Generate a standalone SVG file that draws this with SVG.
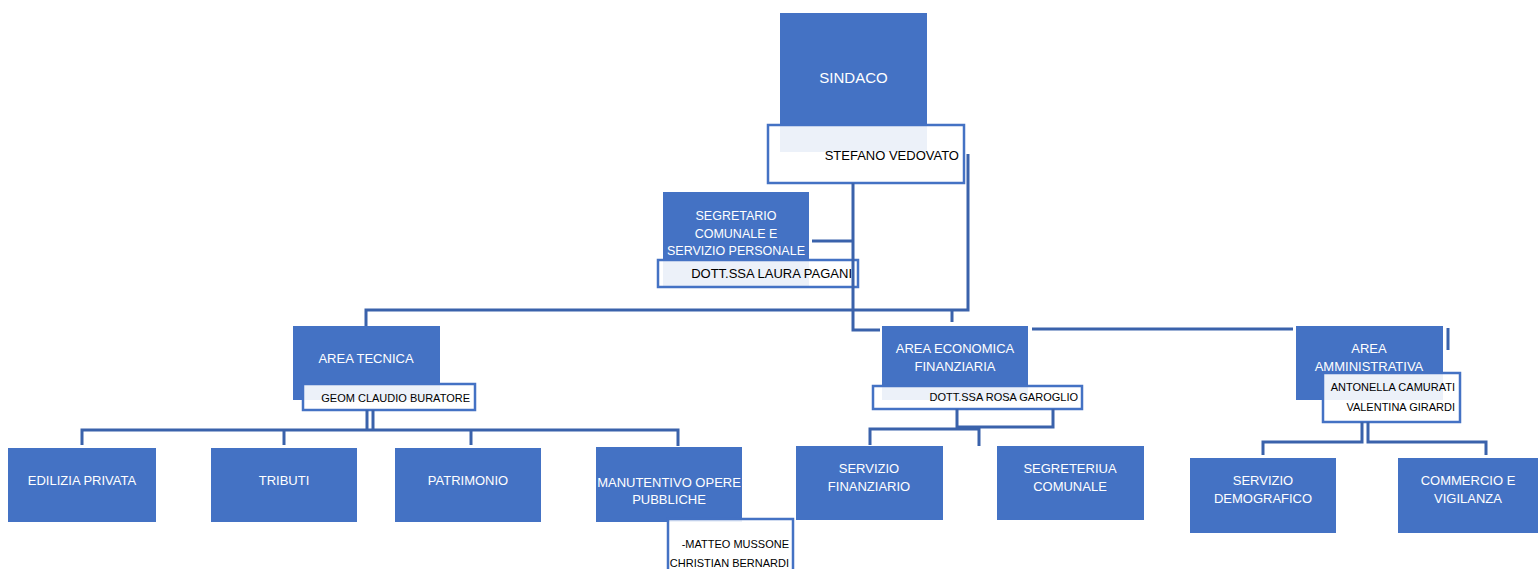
<svg xmlns="http://www.w3.org/2000/svg" width="1539" height="569" viewBox="0 0 1539 569">
<style>
  .box { fill: #4472C4; }
  .lbl { fill: #FFFFFF; fill-opacity: 0.9; stroke: #4472C4; stroke-width: 2.5; }
  .wt { font-family: "Liberation Sans", Arial, sans-serif; font-size: 13px; fill: #FFFFFF; text-anchor: middle; }
  .bt { font-family: "Liberation Sans", Arial, sans-serif; font-size: 11px; fill: #000000; text-anchor: end; }
  .con { fill: none; stroke: #3A62AB; stroke-width: 3; }
</style>
<rect width="1539" height="569" fill="#FFFFFF"/>

<g id="sindaco">
  <rect class="box" x="780" y="13" width="147" height="139"/>
  <text class="wt" x="853.5" y="83" style="font-size:15px">SINDACO</text>
  <rect class="lbl" x="768" y="125" width="196" height="58"/>
  <text class="bt" x="959" y="160" style="font-size:13px">STEFANO VEDOVATO</text>
</g>

<g id="segretario">
  <rect class="box" x="663" y="192" width="146" height="95"/>
  <text class="wt" x="736" y="220" style="font-size:12.5px">SEGRETARIO</text>
  <text class="wt" x="736" y="238" style="font-size:12.5px">COMUNALE E</text>
  <text class="wt" x="736" y="255" style="font-size:12.5px">SERVIZIO PERSONALE</text>
  <rect class="lbl" x="658" y="260" width="200" height="27"/>
  <text class="bt" x="852" y="278" style="font-size:13px">DOTT.SSA LAURA PAGANI</text>
</g>

<g id="area-tecnica">
  <rect class="box" x="293" y="326" width="147" height="74"/>
  <text class="wt" x="366" y="363">AREA TECNICA</text>
  <rect class="lbl" x="303" y="384" width="172" height="26"/>
  <text class="bt" x="470" y="402">GEOM CLAUDIO BURATORE</text>
</g>

<g id="area-economica">
  <rect class="box" x="882" y="326" width="146" height="74"/>
  <text class="wt" x="955" y="353">AREA ECONOMICA</text>
  <text class="wt" x="955" y="371">FINANZIARIA</text>
  <rect class="lbl" x="873" y="386" width="209" height="23"/>
  <text class="bt" x="1078" y="401">DOTT.SSA ROSA GAROGLIO</text>
</g>

<g id="area-amministrativa">
  <rect class="box" x="1296" y="326" width="147" height="74"/>
  <text class="wt" x="1369" y="353">AREA</text>
  <text class="wt" x="1369" y="371">AMMINISTRATIVA</text>
  <rect class="lbl" x="1323" y="373" width="137" height="49"/>
  <text class="bt" x="1455" y="391">ANTONELLA CAMURATI</text>
  <text class="bt" x="1455" y="411">VALENTINA GIRARDI</text>
</g>

<g id="edilizia-privata">
  <rect class="box" x="8" y="448" width="148" height="74"/>
  <text class="wt" x="82" y="485">EDILIZIA PRIVATA</text>
</g>

<g id="tributi">
  <rect class="box" x="211" y="448" width="146" height="74"/>
  <text class="wt" x="284" y="485">TRIBUTI</text>
</g>

<g id="patrimonio">
  <rect class="box" x="395" y="448" width="146" height="74"/>
  <text class="wt" x="468" y="485">PATRIMONIO</text>
</g>

<g id="manutentivo">
  <rect class="box" x="596" y="447" width="146" height="75"/>
  <text class="wt" x="669" y="487">MANUTENTIVO OPERE</text>
  <text class="wt" x="669" y="504">PUBBLICHE</text>
  <rect class="lbl" x="668" y="519" width="125" height="60"/>
  <text class="bt" x="789" y="548">-MATTEO MUSSONE</text>
  <text class="bt" x="789" y="567">CHRISTIAN BERNARDI</text>
</g>

<g id="servizio-finanziario">
  <rect class="box" x="796" y="446" width="147" height="74"/>
  <text class="wt" x="869" y="473">SERVIZIO</text>
  <text class="wt" x="869" y="491">FINANZIARIO</text>
</g>

<g id="segreteria-comunale">
  <rect class="box" x="997" y="446" width="147" height="74"/>
  <text class="wt" x="1070" y="473">SEGRETERIUA</text>
  <text class="wt" x="1070" y="491">COMUNALE</text>
</g>

<g id="servizio-demografico">
  <rect class="box" x="1190" y="458" width="146" height="75"/>
  <text class="wt" x="1263" y="485">SERVIZIO</text>
  <text class="wt" x="1263" y="503">DEMOGRAFICO</text>
</g>

<g id="commercio-vigilanza">
  <rect class="box" x="1398" y="458" width="140" height="75"/>
  <text class="wt" x="1468" y="485">COMMERCIO E</text>
  <text class="wt" x="1468" y="503">VIGILANZA</text>
</g>

<g id="connectors">
  <polyline class="con" points="853,183 853,330 880,330"/>
  <polyline class="con" points="812,241 853,241"/>
  <polyline class="con" points="968,154 968,310 366,310 366,326"/>
  <polyline class="con" points="952,310 952,322"/>
  <polyline class="con" points="1032,329 1293,329"/>
  <polyline class="con" points="1448,328 1448,350"/>
  <polyline class="con" points="367,410 367,430"/>
  <polyline class="con" points="373,410 373,430"/>
  <polyline class="con" points="82,445 82,430 678,430 678,446"/>
  <polyline class="con" points="284,430 284,445"/>
  <polyline class="con" points="471,430 471,445"/>
  <polyline class="con" points="957,409 957,427 1053,427 1053,409"/>
  <polyline class="con" points="870,445 870,429 979,429 979,446"/>
  <polyline class="con" points="1362,422 1362,442 1263,442 1263,455"/>
  <polyline class="con" points="1368,422 1368,442 1486,442 1486,455"/>
</g>
</svg>
